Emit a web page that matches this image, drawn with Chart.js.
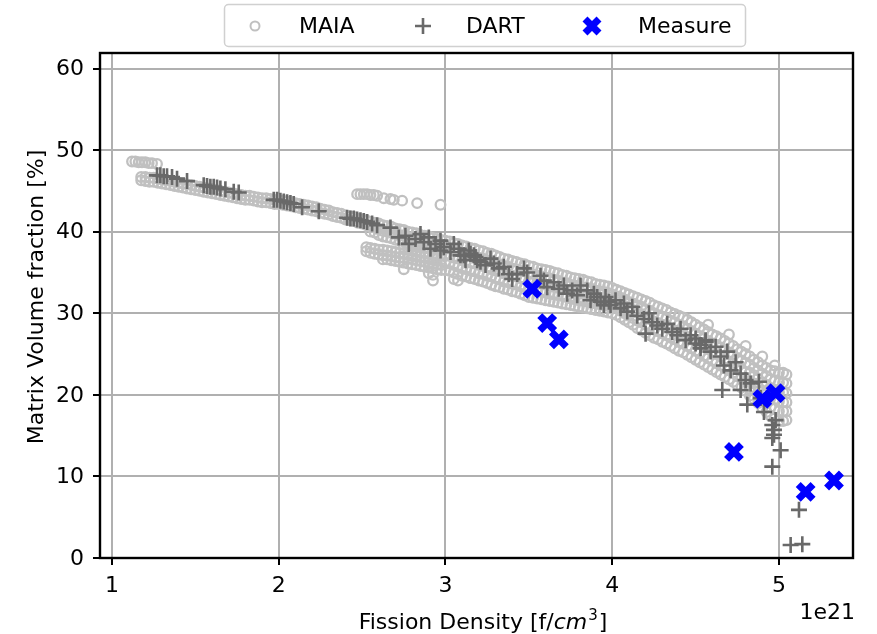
<!DOCTYPE html>
<html>
<head>
<meta charset="utf-8">
<script src="https://cdn.jsdelivr.net/npm/chart.js@4.4.1/dist/chart.umd.min.js"></script>
<style>
  html, body { margin: 0; padding: 0; background: #fff; }
  #wrap { width: 877px; height: 634px; }
</style>
</head>
<body>
<div id="wrap"><canvas id="myChart" width="877" height="634"></canvas></div>
<script>
// MAIA cloud, column by column: fission density (1e21 f/cm3) and the volume fractions in that column
var maiaFD = [
  // upper blob at low density
  1.12, 1.14, 1.16, 1.18, 1.20, 1.22, 1.24, 1.27,
  // thin band
  1.175, 1.200, 1.225, 1.250, 1.275, 1.300,
  1.325, 1.350, 1.375, 1.400, 1.425, 1.450,
  1.475, 1.500, 1.525, 1.550, 1.575, 1.600,
  1.625, 1.650, 1.675, 1.700, 1.725, 1.750,
  1.775, 1.800, 1.825, 1.850, 1.875, 1.900,
  1.925, 1.950, 1.975, 2.000, 2.025, 2.050,
  2.075, 2.100, 2.125, 2.150, 2.175, 2.200,
  2.225, 2.250, 2.275, 2.300, 2.325, 2.350,
  2.375, 2.400, 2.425, 2.450, 2.475, 2.500,
  // upper branch
  2.47, 2.49, 2.51, 2.53, 2.55, 2.57, 2.59, 2.63, 2.67, 2.69, 2.74, 2.83, 2.97,
  // split band
  2.525, 2.550, 2.575, 2.600, 2.625, 2.650, 2.675, 2.700, 2.725, 2.750,
  2.775, 2.800, 2.825, 2.850, 2.875, 2.900, 2.925, 2.950, 2.975,
  // wide band
  3.000, 3.025, 3.050, 3.075, 3.100, 3.125, 3.150, 3.175, 3.200, 3.225,
  3.250, 3.275, 3.300, 3.325, 3.350, 3.375, 3.400, 3.425, 3.450, 3.475,
  3.500, 3.525, 3.550, 3.575, 3.600, 3.625, 3.650, 3.675, 3.700, 3.725,
  3.750, 3.775, 3.800, 3.825, 3.850, 3.875, 3.900, 3.925, 3.950, 3.975,
  4.000, 4.025, 4.050, 4.075, 4.100, 4.125, 4.150, 4.175, 4.200, 4.225,
  4.250, 4.275, 4.300, 4.325, 4.350, 4.375, 4.400, 4.425, 4.450, 4.475,
  4.500, 4.525, 4.550, 4.575, 4.600, 4.625, 4.650, 4.675, 4.700, 4.725,
  4.750, 4.775, 4.800, 4.825, 4.850, 4.875, 4.900, 4.925, 4.950, 4.975,
  5.000, 5.025, 5.045
];
var maiaVF = [
  [48.6], [48.6], [48.5], [48.5], [48.5], [48.4], [48.4], [48.3],

  [46.7, 46.3], [46.7, 46.2], [46.6, 46.1], [46.6, 46.1], [46.5, 46.0], [46.4, 45.9],
  [46.3, 45.8], [46.2, 45.7], [46.1, 45.6], [46.0, 45.5], [45.9, 45.4], [45.8, 45.3],
  [45.7, 45.2], [45.6, 45.1], [45.5, 45.0], [45.4, 44.9], [45.3, 44.8], [45.2, 44.7],
  [45.1, 44.6], [45.0, 44.5], [44.9, 44.4], [44.8, 44.3], [44.7, 44.2], [44.6, 44.1],
  [44.5, 44.0], [44.4, 43.9], [44.4, 43.9], [44.3, 43.8], [44.2, 43.7], [44.1, 43.6],
  [44.1, 43.6], [44.0, 43.5], [43.9, 43.4], [43.9, 43.4], [43.8, 43.3], [43.7, 43.2],
  [43.6, 43.1], [43.5, 43.0], [43.4, 42.9], [43.3, 42.8], [43.2, 42.7], [43.1, 42.6],
  [43.0, 42.5], [42.8, 42.3], [42.7, 42.2], [42.6, 42.1], [42.4, 41.9], [42.3, 41.8],
  [42.2, 41.7], [42.0, 41.5], [41.9, 41.4], [41.8, 41.3], [41.6, 41.1], [41.5, 41.0],

  [44.6], [44.6], [44.6], [44.6], [44.5], [44.5], [44.4], [44.1], [44.0], [43.9], [43.8], [43.5], [43.3],

  [41.4, 40.8, 38.1, 37.6],
  [41.2, 40.6, 40.0, 38.0, 37.4],
  [41.1, 40.5, 39.9, 37.9, 37.3],
  [41.0, 40.3, 39.6, 37.8, 37.2],
  [40.8, 40.1, 39.4, 37.8, 37.1, 36.6],
  [40.7, 40.0, 39.3, 37.7, 37.1, 36.6],
  [40.6, 39.9, 39.2, 37.6, 37.0, 36.5],
  [40.4, 39.7, 39.0, 37.5, 36.9, 36.4],
  [40.3, 39.6, 38.9, 37.4, 36.8, 36.3],
  [40.2, 39.5, 38.8, 38.1, 37.4, 36.8, 36.2, 35.4],
  [40.0, 39.3, 38.6, 37.9, 37.3, 36.7, 36.1],
  [39.9, 39.2, 38.5, 37.8, 37.2, 36.6, 36.0],
  [39.8, 39.1, 38.4, 37.7, 37.1, 36.5, 35.9],
  [39.6, 38.9, 38.2, 37.6, 37.0, 36.4, 35.8],
  [39.5, 38.8, 38.1, 37.5, 36.9, 36.3, 35.7],
  [39.4, 38.7, 38.0, 37.4, 36.9, 36.2, 35.6, 34.9],
  [39.2, 38.5, 37.9, 37.3, 36.8, 36.1, 35.5, 34.7, 34.0],
  [39.1, 38.4, 37.8, 37.2, 36.7, 36.0, 35.4],
  [39.0, 38.3, 37.7, 37.1, 36.6, 35.9, 35.3],

  [38.9, 38.0, 37.1, 36.2, 35.3], [38.8, 37.9, 37.0, 36.1, 35.2],
  [38.6, 37.7, 36.8, 35.9, 35.0, 34.2], [38.5, 37.6, 36.7, 35.7, 34.8, 34.0],
  [38.3, 37.4, 36.5, 35.5, 34.6], [38.2, 37.3, 36.4, 35.4, 34.5],
  [38.0, 37.1, 36.2, 35.2, 34.3], [37.9, 37.0, 36.1, 35.1, 34.2],
  [37.7, 36.8, 35.9, 34.9, 34.0], [37.6, 36.7, 35.8, 34.8, 33.9],
  [37.4, 36.5, 35.6, 34.6, 33.7], [37.3, 36.4, 35.4, 34.5, 33.5],
  [37.1, 36.2, 35.2, 34.3, 33.3], [36.9, 36.0, 35.1, 34.1, 33.2],
  [36.7, 35.8, 34.9, 33.9, 33.0], [36.6, 35.7, 34.8, 33.8, 32.9],
  [36.4, 35.5, 34.6, 33.6, 32.7], [36.3, 35.4, 34.5, 33.5, 32.6],
  [36.1, 35.2, 34.3, 33.3, 32.4], [36.0, 35.1, 34.1, 33.2, 32.2],
  [35.8, 34.9, 33.9, 33.0, 32.0], [35.7, 34.8, 33.8, 32.9, 31.9],
  [35.5, 34.6, 33.7, 32.7, 31.8], [35.4, 34.5, 33.6, 32.6, 31.7],
  [35.3, 34.4, 33.5, 32.5, 31.6], [35.2, 34.3, 33.4, 32.4, 31.5],
  [35.0, 34.1, 33.2, 32.3, 31.4], [34.9, 34.0, 33.1, 32.2, 31.3],
  [34.7, 33.8, 33.0, 32.1, 31.2], [34.6, 33.7, 32.9, 32.0, 31.1],
  [34.4, 33.5, 32.7, 31.8, 31.0], [34.3, 33.4, 32.6, 31.7, 30.9],
  [34.2, 33.3, 32.5, 31.6, 30.8], [34.1, 33.2, 32.4, 31.5, 30.7],
  [33.9, 33.1, 32.3, 31.4, 30.6], [33.8, 33.0, 32.2, 31.3, 30.5],
  [33.6, 32.8, 32.0, 31.2, 30.4], [33.5, 32.7, 31.9, 31.1, 30.3],
  [33.4, 32.6, 31.8, 31.0, 30.2], [33.3, 32.5, 31.7, 30.9, 30.1],
  [33.1, 32.3, 31.6, 30.8, 30.0], [32.9, 32.1, 31.4, 30.6, 29.8],
  [32.7, 31.9, 31.1, 30.3, 29.5], [32.5, 31.7, 30.9, 30.0, 29.2],
  [32.3, 31.4, 30.6, 29.7, 28.9], [32.1, 31.2, 30.4, 29.4, 28.6],
  [31.9, 31.0, 30.1, 29.1, 28.2], [31.7, 30.8, 29.9, 28.9, 27.9],
  [31.5, 30.5, 29.6, 28.6, 27.6], [31.3, 30.3, 29.3, 28.3, 27.3],
  [31.0, 30.0, 29.0, 28.0, 27.0], [30.8, 29.8, 28.8, 27.8, 26.8],
  [30.6, 29.6, 28.6, 27.5, 26.5], [30.4, 29.4, 28.4, 27.3, 26.3],
  [30.1, 29.1, 28.1, 27.0, 26.0], [29.9, 28.9, 27.9, 26.8, 25.7],
  [29.7, 28.6, 27.6, 26.5, 25.4], [29.5, 28.4, 27.4, 26.3, 25.2],
  [29.2, 28.1, 27.1, 26.0, 24.9], [28.9, 27.8, 26.8, 25.7, 24.6],
  [28.6, 27.5, 26.5, 25.4, 24.3], [28.3, 27.2, 26.2, 25.1, 24.0],
  [28.0, 26.9, 25.9, 24.8, 23.7], [28.6, 27.7, 26.6, 25.6, 24.5, 23.4],
  [27.4, 26.3, 25.3, 24.2, 23.1], [27.2, 26.1, 25.0, 23.9, 22.8],
  [26.9, 25.8, 24.7, 23.6, 22.5], [26.6, 25.5, 24.4, 23.3, 22.2],
  [27.4, 26.3, 25.2, 24.1, 23.0, 21.9], [26.0, 24.9, 23.8, 22.7, 21.6],
  [25.6, 24.5, 23.4, 22.3, 21.2], [25.3, 24.2, 23.1, 22.0, 20.9],
  [26.0, 25.0, 23.9, 22.8, 21.6, 20.5], [24.7, 23.7, 22.7, 21.7, 20.7, 19.9],
  [24.3, 23.3, 22.4, 21.4, 20.5, 19.5], [24.0, 23.0, 22.0, 21.0, 20.0, 19.0],
  [24.7, 23.6, 22.6, 21.5, 20.5, 19.4, 18.4], [23.3, 22.3, 21.2, 20.1, 19.0, 17.9],
  [23.0, 21.9, 20.8, 19.7, 18.5, 17.4], [23.6, 22.9, 21.7, 20.6, 19.5, 18.3, 17.1],
  [22.7, 21.5, 20.3, 19.2, 18.0, 16.8], [22.7, 21.5, 20.3, 19.1, 18.0, 16.8],
  [22.5, 21.4, 20.2, 19.1, 18.0, 16.9]
];

// DART points
var dartFD = [1.27, 1.29, 1.31, 1.33, 1.36, 1.39, 1.45, 1.55, 1.57, 1.59, 1.61, 1.63, 1.65, 1.68, 1.73, 1.76,
  1.97, 1.99, 2.01, 2.03, 2.05, 2.07, 2.09, 2.14, 2.24, 2.41, 2.43, 2.45, 2.47, 2.49, 2.51, 2.53, 2.56, 2.59,
  2.67, 2.72, 2.76, 2.78, 2.82, 2.85, 2.87, 2.90, 2.91, 2.94, 2.97, 2.97, 2.99, 3.03, 3.05, 3.08, 3.09, 3.11,
  3.12, 3.14, 3.15, 3.17, 3.18, 3.19, 3.21, 3.24, 3.27, 3.29, 3.32, 3.35, 3.38, 3.40, 3.43, 3.47, 3.49, 3.57,
  3.59, 3.61, 3.65, 3.68, 3.71, 3.73, 3.76, 3.79, 3.81, 3.85, 3.87, 3.89, 3.91, 3.93, 3.95, 3.96, 3.98, 3.99,
  4.02, 4.05, 4.07, 4.09, 4.12, 4.15, 4.19, 4.20, 4.22, 4.24, 4.27, 4.30, 4.33, 4.36, 4.39, 4.41, 4.44, 4.47,
  4.50, 4.50, 4.53, 4.53, 4.56, 4.56, 4.59, 4.62, 4.65, 4.66, 4.67, 4.69, 4.71, 4.74, 4.77, 4.77, 4.80, 4.81,
  4.83, 4.88, 4.89, 4.91, 4.96, 4.97, 4.98, 4.97, 4.96, 5.01, 4.96, 5.12, 5.07, 5.14];
var dartVF = [46.9, 46.9, 46.8, 46.8, 46.7, 46.5, 46.2, 45.7, 45.6, 45.5, 45.5, 45.4, 45.3, 45.2, 44.9, 44.8,
  43.9, 43.9, 43.8, 43.7, 43.6, 43.5, 43.4, 43.0, 42.5, 41.7, 41.6, 41.6, 41.5, 41.4, 41.3, 41.2, 41.0, 40.8,
  40.5, 39.3, 39.5, 38.5, 39.1, 39.7, 38.7, 39.3, 37.9, 38.5, 38.9, 37.7, 38.1, 37.5, 38.5, 37.9, 37.1, 37.1,
  36.5, 37.7, 37.3, 37.1, 36.9, 36.5, 36.3, 35.9, 36.7, 36.1, 35.5, 35.7, 34.8, 34.2, 34.8, 35.5, 35.0, 34.6,
  34.0, 33.2, 33.8, 33.0, 33.4, 32.4, 32.8, 32.2, 33.4, 32.8, 31.6, 32.4, 32.0, 31.4, 31.0, 32.0, 31.4, 31.0,
  31.6, 30.6, 31.2, 30.2, 30.8, 29.7, 29.3, 27.5, 30.0, 28.9, 28.5, 28.1, 28.7, 27.7, 27.3, 28.1, 26.7, 27.3,
  26.3, 26.9, 25.7, 26.1, 26.7, 26.5, 25.3, 25.9, 24.7, 20.6, 23.6, 25.3, 23.0, 24.0, 22.6, 20.6, 21.8, 18.8,
  21.4, 21.6, 19.6, 17.9, 16.3, 15.1, 16.9, 15.7, 14.7, 13.2, 11.2, 5.9, 1.6, 1.7];

// measured samples
var measureFD = [3.52, 3.61, 3.68, 4.73, 4.90, 4.98, 5.16, 5.33];
var measureVF = [33.0, 28.8, 26.8, 13.0, 19.5, 20.2, 8.1, 9.5];

var seriesNames = ['MAIA', 'DART', 'Measure'];
var xLabel = 'Fission Density [f/';
var yLabel = 'Matrix Volume fraction [%]';

var maiaPts = [];
maiaFD.forEach(function (x, i) {
  maiaVF[i].forEach(function (y) { maiaPts.push({ x: x, y: y }); });
});
var dartPts = dartFD.map(function (x, i) { return { x: x, y: dartVF[i] }; });
var measurePts = measureFD.map(function (x, i) { return { x: x, y: measureVF[i] }; });

var FONT = '22px "DejaVu Sans"';
var GREY = '#c0c0c0';
var DARK = '#696969';

// legend box, spines, tick labels and axis labels, drawn like matplotlib
var decor = {
  id: 'decor',
  afterDatasetsDraw: function (chart) {
    var ctx = chart.ctx, a = chart.chartArea;
    ctx.save();
    ctx.strokeStyle = '#000';
    ctx.lineWidth = 2.4;
    ctx.strokeRect(a.left, a.top, a.right - a.left, a.bottom - a.top);
    ctx.restore();
  },
  afterDraw: function (chart) {
    var ctx = chart.ctx, a = chart.chartArea;
    var xs = chart.scales.x, ys = chart.scales.y;
    ctx.save();

    // tick labels
    ctx.fillStyle = '#000';
    ctx.font = FONT;
    ctx.textAlign = 'center';
    ctx.textBaseline = 'alphabetic';
    xs.ticks.forEach(function (t) {
      ctx.fillText(String(t.value), xs.getPixelForValue(t.value), 592);
    });
    ctx.textAlign = 'right';
    ctx.textBaseline = 'middle';
    ys.ticks.forEach(function (t) {
      ctx.fillText(String(t.value), a.left - 16, ys.getPixelForValue(t.value) + 1);
    });

    // legend
    var bx = 224.5, by = 4.5, bw = 521, bh = 42;
    ctx.beginPath();
    ctx.roundRect(bx, by, bw, bh, 4);
    ctx.fillStyle = 'rgba(255,255,255,0.8)';
    ctx.fill();
    ctx.strokeStyle = '#d0d0d0';
    ctx.lineWidth = 1.5;
    ctx.stroke();

    var ly = 26;
    ctx.beginPath();
    ctx.arc(255, ly, 4.5, 0, Math.PI * 2);
    ctx.strokeStyle = GREY;
    ctx.lineWidth = 2;
    ctx.stroke();

    ctx.beginPath();
    ctx.moveTo(415, ly); ctx.lineTo(431, ly);
    ctx.moveTo(423, ly - 8); ctx.lineTo(423, ly + 8);
    ctx.strokeStyle = DARK;
    ctx.lineWidth = 2.6;
    ctx.stroke();

    var r = 7;
    ctx.beginPath();
    ctx.moveTo(592 - r, ly - r); ctx.lineTo(592 + r, ly + r);
    ctx.moveTo(592 - r, ly + r); ctx.lineTo(592 + r, ly - r);
    ctx.strokeStyle = '#0000ff';
    ctx.lineWidth = 7;
    ctx.stroke();

    ctx.fillStyle = '#000';
    ctx.font = FONT;
    ctx.textBaseline = 'middle';
    ctx.textAlign = 'left';
    ctx.fillText(seriesNames[0], 299, ly + 1);
    ctx.fillText(seriesNames[1], 466, ly + 1);
    ctx.fillText(seriesNames[2], 638, ly + 1);

    // y axis label
    ctx.save();
    ctx.translate(43, 297);
    ctx.rotate(-Math.PI / 2);
    ctx.textAlign = 'center';
    ctx.textBaseline = 'alphabetic';
    ctx.fillText(yLabel, 0, 0);
    ctx.restore();

    // x axis label with italic cm and superscript 3
    ctx.textBaseline = 'alphabetic';
    ctx.textAlign = 'left';
    var p1 = xLabel, p2 = 'cm', p3 = '3', p4 = ']';
    ctx.font = FONT;
    var w1 = ctx.measureText(p1).width, w4 = ctx.measureText(p4).width;
    ctx.font = 'italic ' + FONT;
    var w2 = ctx.measureText(p2).width;
    ctx.font = '15px "DejaVu Sans"';
    var w3 = ctx.measureText(p3).width;
    var total = w1 + w2 + w3 + 1 + w4;
    var x0 = (a.left + a.right) / 2 - total / 2 + 6;
    var base = 629;
    ctx.font = FONT;
    ctx.fillText(p1, x0, base);
    ctx.font = 'italic ' + FONT;
    ctx.fillText(p2, x0 + w1, base);
    ctx.font = '15px "DejaVu Sans"';
    ctx.fillText(p3, x0 + w1 + w2 + 1, base - 9);
    ctx.font = FONT;
    ctx.fillText(p4, x0 + w1 + w2 + w3 + 2, base);

    // offset text of the x axis
    ctx.textAlign = 'right';
    ctx.fillText('1e21', a.right + 2, 619);
    ctx.restore();
  }
};

var ctx = document.getElementById('myChart').getContext('2d');
var myChart = new Chart(ctx, {
  type: 'scatter',
  data: {
    datasets: [
      {
        label: seriesNames[0],
        data: maiaPts,
        order: 3,
        pointStyle: 'circle',
        pointRadius: 4.8,
        pointBorderWidth: 2.3,
        borderColor: GREY,
        backgroundColor: 'rgba(0,0,0,0)',
      },
      {
        label: seriesNames[1],
        data: dartPts,
        order: 2,
        pointStyle: 'cross',
        pointRadius: 8,
        pointBorderWidth: 2.6,
        borderColor: DARK,
        backgroundColor: DARK,
      },
      {
        label: seriesNames[2],
        data: measurePts,
        order: 1,
        pointStyle: 'crossRot',
        pointRadius: 10.5,
        pointBorderWidth: 7,
        borderColor: '#0000ff',
        backgroundColor: '#0000ff',
      },
    ],
  },
  options: {
    responsive: false,
    animation: false,
    devicePixelRatio: 1,
    layout: { padding: { top: 53, right: 24, bottom: 0, left: 0 } },
    plugins: {
      legend: { display: false },
      tooltip: { enabled: false },
    },
    scales: {
      x: {
        type: 'linear',
        min: 0.928,
        max: 5.444,
        afterFit: function (scale) { scale.height = 76; },
        ticks: { stepSize: 1, includeBounds: false, display: false },
        grid: { color: '#b0b0b0', lineWidth: 2, tickColor: '#000', tickLength: 7, tickWidth: 2 },
        border: { display: false },
      },
      y: {
        type: 'linear',
        min: 0,
        max: 61.9,
        afterFit: function (scale) { scale.width = 100; },
        ticks: { stepSize: 10, includeBounds: false, display: false },
        grid: { color: '#b0b0b0', lineWidth: 2, tickColor: '#000', tickLength: 7, tickWidth: 2 },
        border: { display: false },
      },
    },
  },
  plugins: [decor],
});
</script>
</body>
</html>
